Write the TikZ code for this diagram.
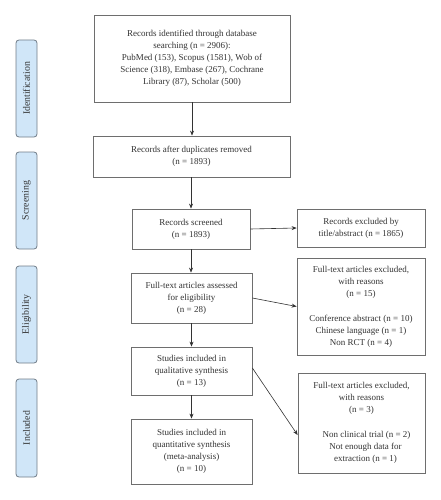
\documentclass[tikz,border=0pt]{standalone}
\usepackage{fontspec}
\setmainfont{Liberation Serif}
\usetikzlibrary{arrows.meta}
\definecolor{boxline}{HTML}{6E6E6E}
\definecolor{txt}{HTML}{333333}
\definecolor{phasefill}{HTML}{D0E6F8}
\definecolor{phaseline}{HTML}{707C88}
\begin{document}
\begin{tikzpicture}[x=1pt,y=-1pt,
  box/.style={draw=boxline,line width=0.8pt,fill=white,align=center,text=txt,
    font=\fontsize{9}{12}\selectfont,inner sep=2pt},
  phase/.style={draw=phaseline,line width=0.8pt,fill=phasefill,rounded corners=3pt,
    minimum width=21pt,minimum height=97pt,inner sep=0pt},
  phasetext/.style={rotate=90,text=txt,font=\fontsize{9.8}{10}\selectfont},
  arr/.style={draw=txt,line width=0.6pt,-{Stealth[length=5pt,width=4pt]}}]
\useasboundingbox (0,0) rectangle (441,500);

% phase labels
\node[phase] (pid) at (26.5,88.5) {};
\node[phasetext] (tid) at (pid.center) {Identification};
\node[phase] (psc) at (26.5,200.5) {};
\node[phasetext] (tsc) at (psc.center) {Screening};
\node[phase] (pel) at (26.5,314.5) {};
\node[phasetext] (tel) at (pel.center) {Eligibility};
\node[phase,minimum height=98pt] (pin) at (26.5,428) {};
\node[phasetext] (tin) at (pin.center) {Included};

% main boxes
\node[box,minimum width=196pt,minimum height=87pt] (top) at (192,58.5)
  {Records identified through database\\searching (n = 2906):\\PubMed (153), Scopus (1581), Wob of\\Science (318), Embase (267), Cochrane\\Library (87), Scholar (500)};
\node[box,minimum width=197pt,minimum height=41pt] (dup) at (191.5,156.5)
  {Records after duplicates removed\\(n = 1893)};
\node[box,minimum width=118pt,minimum height=40pt] (scr) at (191,229)
  {Records screened\\(n = 1893)};
\node[box,minimum width=128pt,minimum height=38pt] (ex1) at (361,228)
  {Records excluded by\\title/abstract (n = 1865)};
\node[box,minimum width=121pt,minimum height=50pt] (full) at (191.5,298)
  {Full-text articles assessed\\for eligibility\\(n = 28)};
\node[box,minimum width=128pt,minimum height=97pt] (ex2) at (361,306.5)
  {Full-text articles excluded,\\with reasons\\(n = 15)\\[13pt]Conference abstract (n = 10)\\Chinese language (n = 1)\\Non RCT (n = 4)};
\node[box,minimum width=121pt,minimum height=48pt] (qual) at (191.5,371)
  {Studies included in\\qualitative synthesis\\(n = 13)};
\node[box,minimum width=121pt,minimum height=65pt] (quant) at (191.5,451.5)
  {Studies included in\\quantitative synthesis\\(meta-analysis)\\(n = 10)};
\node[box,minimum width=127pt,minimum height=100pt] (ex3) at (361.5,423)
  {Full-text articles excluded,\\with reasons\\(n = 3)\\[13pt]\hspace*{10pt}Non clinical trial (n = 2)\\\hspace*{8pt}Not enough data for\\\hspace*{8pt}extraction (n = 1)};

% connectors
\draw[arr] (top.south) -- (top.south |- dup.north);
\draw[arr] (dup.south -| scr.north) -- (scr.north);
\draw[arr] (scr.south) -- (scr.south |- full.north);
\draw[arr] (full.south) -- (qual.north);
\draw[arr] (qual.south) -- (quant.north);
\draw[arr] (scr.east) -- (ex1.west);
\draw[arr] (full.east) -- (ex2.west);
\draw[arr] ([yshift=3pt]qual.east) -- ([yshift=-12pt]ex3.west);
\end{tikzpicture}
\end{document}
